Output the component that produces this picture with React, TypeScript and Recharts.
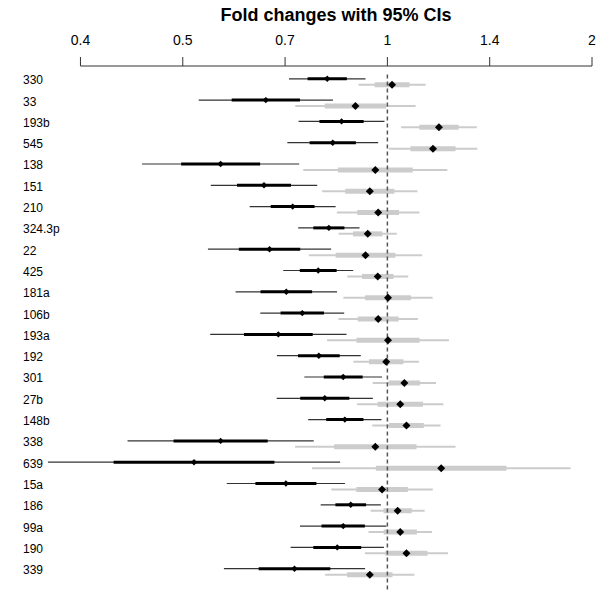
import { ScatterChart, Scatter, XAxis, YAxis, ErrorBar, ReferenceLine } from "recharts";

// miRNA rows, top to bottom
const mirnas = [
  "330", "33", "193b", "545", "138", "151", "210", "324.3p", "22", "425", "181a", "106b",
  "193a", "192", "301", "27b", "148b", "338", "639", "15a", "186", "99a", "190", "339",
];

// log2 fold change, half width of the 95% CI and of the thick (±1 SE) bar — black series
const estBlack = [
  -0.294, -0.594, -0.224, -0.267, -0.815, -0.603, -0.463, -0.286, -0.576, -0.338, -0.494, -0.416,
  -0.533, -0.335, -0.216, -0.306, -0.208, -0.815, -0.945, -0.496, -0.179, -0.216, -0.245, -0.454,
];
const ci95Black = [
  0.187, 0.328, 0.21, 0.222, 0.384, 0.26, 0.21, 0.15, 0.301, 0.171, 0.248, 0.205,
  0.333, 0.205, 0.19, 0.235, 0.179, 0.455, 0.714, 0.289, 0.147, 0.211, 0.228, 0.345,
];
const seBlack = [
  0.096, 0.167, 0.108, 0.113, 0.193, 0.132, 0.107, 0.076, 0.15, 0.09, 0.126, 0.106,
  0.168, 0.102, 0.095, 0.12, 0.091, 0.23, 0.393, 0.149, 0.075, 0.106, 0.117, 0.175,
];

// grey series
const estGrey = [
  0.023, -0.156, 0.252, 0.223, -0.059, -0.086, -0.045, -0.096, -0.107, -0.047, 0.003, -0.045,
  0.003, -0.006, 0.083, 0.063, 0.093, -0.059, 0.263, -0.026, 0.05, 0.063, 0.093, -0.086,
];
const ci95Grey = [
  0.164, 0.294, 0.185, 0.216, 0.352, 0.233, 0.202, 0.142, 0.277, 0.149, 0.218, 0.194,
  0.298, 0.16, 0.155, 0.211, 0.167, 0.392, 0.632, 0.248, 0.132, 0.155, 0.203, 0.218,
];
const seGrey = [
  0.085, 0.15, 0.096, 0.11, 0.183, 0.12, 0.102, 0.072, 0.146, 0.077, 0.112, 0.1,
  0.154, 0.084, 0.077, 0.111, 0.085, 0.201, 0.319, 0.126, 0.069, 0.081, 0.103, 0.111,
];

const xTicks = [-1.5, -1, -0.5, 0, 0.5, 1];
const rowTicks = mirnas.map((_, i) => i);

const blackRows = mirnas.map((name, i) => ({
  name,
  row: i,
  est: estBlack[i],
  ci: [ci95Black[i], ci95Black[i]],
  se: [seBlack[i], seBlack[i]],
}));
const greyRows = mirnas.map((name, i) => ({
  name,
  row: i + 0.28,
  est: estGrey[i],
  ci: [ci95Grey[i], ci95Grey[i]],
  se: [seGrey[i], seGrey[i]],
}));

const fmtFold = (v: number) => {
  const s = Math.pow(2, v).toFixed(1);
  return s.endsWith(".0") ? s.slice(0, -2) : s;
};

const diamond = (r: number) => (props: any) => {
  const { cx, cy } = props;
  return (
    <polygon
      points={`${cx},${cy - r} ${cx + r},${cy} ${cx},${cy + r} ${cx - r},${cy}`}
      fill="#000"
    />
  );
};

const RowLabel = (props: any) => {
  const { y, payload } = props;
  return (
    <text x={23} y={y + 5.5} fontSize={12} fill="#000" textAnchor="start">
      {mirnas[payload.value]}
    </text>
  );
};

export default function App() {
  return (
    <div
      style={{
        position: "absolute",
        left: 0,
        top: 0,
        width: 602,
        height: 597,
        background: "#fff",
        fontFamily: "'Liberation Sans', Arial, sans-serif",
      }}
    >
      <div
        style={{
          position: "absolute",
          left: 80,
          width: 512,
          top: 6,
          textAlign: "center",
          fontSize: 18,
          lineHeight: "18px",
          fontWeight: "bold",
        }}
      >
        Fold changes with 95% CIs
      </div>
      <ScatterChart width={602} height={597} margin={{ top: 26, right: 10, bottom: 7, left: 0 }}>
        <XAxis
          type="number"
          dataKey="est"
          orientation="top"
          domain={[-1.6, 1]}
          allowDataOverflow
          ticks={xTicks}
          interval={0}
          tickFormatter={fmtFold}
          axisLine={false}
          tickSize={9}
          tickMargin={12}
          height={40}
          tick={{ fill: "#000", fontSize: 14 }}
          tickLine={{ stroke: "#333" }}
        />
        <YAxis
          type="number"
          dataKey="row"
          domain={[-0.6, 24]}
          reversed
          ticks={rowTicks}
          interval={0}
          width={60}
          axisLine={false}
          tickLine={false}
          tick={<RowLabel />}
        />
        <ReferenceLine
          segment={[{ x: -1.5, y: -0.6 }, { x: 1, y: -0.6 }]}
          stroke="#333"
          strokeWidth={1}
          ifOverflow="visible"
        />
        <Scatter data={greyRows} shape={diamond(4)} isAnimationActive={false}>
          <ErrorBar dataKey="ci" direction="x" width={0} stroke="#cccccc" strokeWidth={2} isAnimationActive={false} />
          <ErrorBar dataKey="se" direction="x" width={0} stroke="#cccccc" strokeWidth={5} isAnimationActive={false} />
        </Scatter>
        <Scatter data={blackRows} shape={diamond(3.2)} isAnimationActive={false}>
          <ErrorBar dataKey="ci" direction="x" width={0} stroke="#333" strokeWidth={1.2} isAnimationActive={false} />
          <ErrorBar dataKey="se" direction="x" width={0} stroke="#000" strokeWidth={3} isAnimationActive={false} />
        </Scatter>
        <ReferenceLine
          segment={[{ x: 0, y: -0.2 }, { x: 0, y: 24 }]}
          stroke="#555"
          strokeWidth={1.5}
          strokeDasharray="4 3"
          ifOverflow="visible"
        />
      </ScatterChart>
    </div>
  );
}
